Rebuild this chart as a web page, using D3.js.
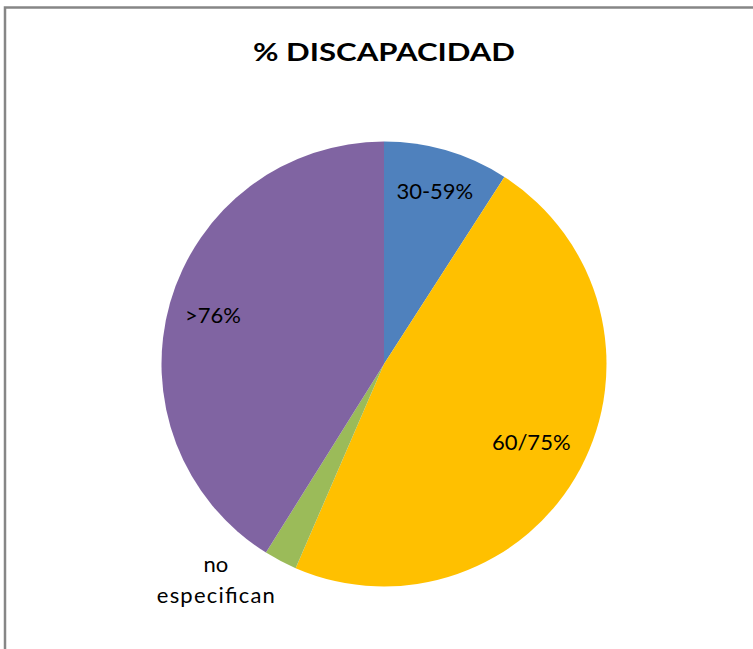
<!DOCTYPE html>
<html>
<head>
<meta charset="utf-8">
<script src="https://cdn.jsdelivr.net/npm/d3@7"></script>
<style>
  html, body { margin: 0; padding: 0; background: #fff; }
  svg { display: block; }
</style>
</head>
<body>
<svg id="chart" width="753" height="649"></svg>
<script>
// Share of people by disability degree
const categories = ["30-59%", "60/75%", "no especifican", ">76%"];
const values = [9.1, 47.4, 2.4, 41.1];
const colors = ["#4f81bd", "#ffc000", "#9bbb59", "#8064a2"];
const title = "% DISCAPACIDAD";

const svg = d3.select("#chart");
const font = "Lato, 'Open Sans', sans-serif";

// Chart area frame (runs past the right and bottom edges)
svg.append("rect")
  .attr("x", 5).attr("y", 7.5)
  .attr("width", 800).attr("height", 700)
  .attr("fill", "#fff")
  .attr("stroke", "#868686")
  .attr("stroke-width", 2.5);

svg.append("text")
  .attr("x", 384).attr("y", 61)
  .attr("text-anchor", "middle")
  .attr("font-family", font)
  .attr("font-weight", "bold")
  .attr("font-size", 25)
  .attr("textLength", 262)
  .attr("lengthAdjust", "spacingAndGlyphs")
  .attr("fill", "#000")
  .text(title);

const cx = 384, cy = 364, r = 222.5;
const pie = d3.pie().sort(null).value(d => d)(values);
const arc = d3.arc().innerRadius(0).outerRadius(r);

const g = svg.append("g").attr("transform", `translate(${cx},${cy})`);
g.selectAll("path")
  .data(pie)
  .join("path")
  .attr("d", arc)
  .attr("fill", (d, i) => colors[i]);

// Label radius as a fraction of the pie radius, per slice
const labelRadius = [0.81, 0.75, 1.2, 0.8];

pie.forEach((d, i) => {
  const name = categories[i];
  const lr = r * labelRadius[i];
  const [x, y] = d3.arc().innerRadius(lr).outerRadius(lr).centroid(d);
  if (name === "no especifican") {
    // outside label, wrapped over two lines
    const t = g.append("text")
      .attr("text-anchor", "middle")
      .attr("font-family", font)
      .attr("font-size", 22)
      .attr("fill", "#000");
    t.append("tspan").attr("x", x - 44).attr("y", y - 28).text("no");
    t.append("tspan").attr("x", x - 44).attr("y", y + 3)
      .attr("textLength", 118)
      .attr("lengthAdjust", "spacing")
      .text("especifican");
  } else {
    g.append("text")
      .attr("x", x).attr("y", y)
      .attr("dy", "0.35em")
      .attr("text-anchor", "middle")
      .attr("font-family", font)
      .attr("font-size", 22)
      .attr("fill", "#000")
      .text(name);
  }
});
</script>
</body>
</html>
